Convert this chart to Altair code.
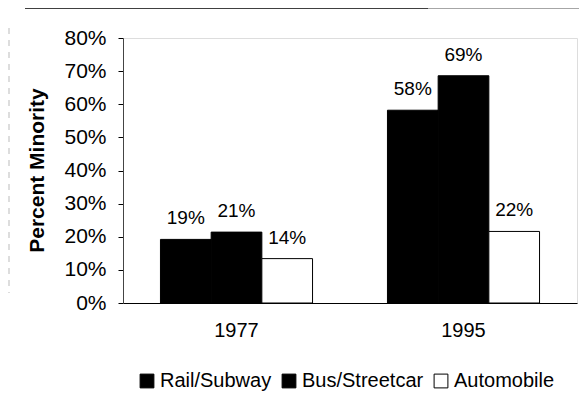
import altair as alt
import pandas as pd

years = ["1977", "1977", "1977", "1995", "1995", "1995"]
modes = ["Rail/Subway", "Bus/Streetcar", "Automobile", "Rail/Subway", "Bus/Streetcar", "Automobile"]
values = [19.2, 21.4, 13.4, 58.2, 68.6, 21.6]
labels = ["19%", "21%", "14%", "58%", "69%", "22%"]
mode_order = ["Rail/Subway", "Bus/Streetcar", "Automobile"]
mode_colors = ["#000000", "#000000", "#ffffff"]
y_ticks = [0, 10, 20, 30, 40, 50, 60, 70, 80]

df = pd.DataFrame({"year": years, "mode": modes, "value": values, "label": labels})

FONT = "Liberation Sans"

x_enc = alt.X("year:N", title=None,
              scale=alt.Scale(paddingInner=0.33, paddingOuter=0.165),
              axis=alt.Axis(labelAngle=0, ticks=False, tickSize=0, labelPadding=17,
                            labelFontSize=20, labelFont=FONT, labelColor="black",
                            domainColor="black", domainWidth=1))
xo_enc = alt.XOffset("mode:N", sort=mode_order,
                     scale=alt.Scale(domain=mode_order, paddingInner=0, paddingOuter=0))
y_enc = alt.Y("value:Q", title="Percent Minority",
              scale=alt.Scale(domain=[0, 80], nice=False),
              axis=alt.Axis(values=y_ticks, labelExpr="datum.value + '%'", grid=False,
                            labelOverlap=False, tickCount=9,
                            tickSize=5, tickColor="black", labelPadding=12,
                            labelFontSize=21, labelFont=FONT, labelColor="black",
                            domainColor="#444444", domainWidth=1,
                            titleFontSize=21, titleFont=FONT, titleFontWeight="bold",
                            titleColor="black", titleX=-86, titleY=132,
                            titleBaseline="middle", titleAngle=270, titleAlign="center"))

bars = alt.Chart(df).mark_bar(stroke="black", strokeWidth=1).encode(
    x=x_enc,
    xOffset=xo_enc,
    y=y_enc,
    color=alt.Color("mode:N", scale=alt.Scale(domain=mode_order, range=mode_colors),
                    legend=alt.Legend(title=None, orient="none", legendX=14, legendY=333,
                                      direction="horizontal", symbolType="square",
                                      symbolSize=190, symbolStrokeColor="black",
                                      symbolStrokeWidth=1, labelFontSize=20,
                                      labelFont=FONT, labelColor="black",
                                      columnPadding=7, labelOffset=3)),
)

text = alt.Chart(df).mark_text(baseline="alphabetic", dy=-15, fontSize=19, font=FONT,
                               color="black").encode(
    x=x_enc,
    xOffset=xo_enc,
    y=y_enc,
    text="label:N",
)

one = pd.DataFrame({"a": [0]})
top_line = alt.Chart(one).mark_rule(color="black", strokeWidth=1.5).encode(
    x=alt.value(-98), x2=alt.value(305), y=alt.value(-30))
top_line2 = alt.Chart(one).mark_rule(color="#888888", strokeWidth=1.5).encode(
    x=alt.value(305), x2=alt.value(456), y=alt.value(-30))
left_line = alt.Chart(one).mark_rule(color="#bbbbbb", strokeWidth=1, strokeDash=[6, 6]).encode(
    x=alt.value(-114), y=alt.value(-10), y2=alt.value(255))

chart = alt.layer(bars, text, top_line, top_line2, left_line).properties(
    width=454, height=265,
    autosize=alt.AutoSizeParams(type="none"),
    padding={"left": 115, "top": 30, "right": 2, "bottom": 91},
).configure_view(stroke=None).configure(background="white")

chart.save("out.html", embed_options={"renderer": "svg", "actions": False})
